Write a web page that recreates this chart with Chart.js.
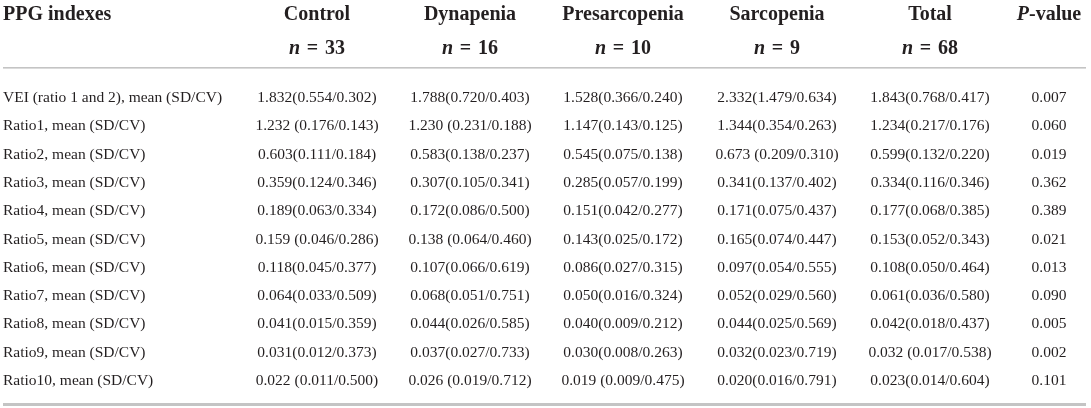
<!DOCTYPE html>
<html>
<head>
<meta charset="utf-8">
<script src="https://cdn.jsdelivr.net/npm/chart.js@4/dist/chart.umd.min.js"></script>
<style>
  html, body { margin: 0; padding: 0; background: #fff; }
  #wrap { width: 1091px; height: 408px; position: relative; }
</style>
</head>
<body>
<div id="wrap"><canvas id="table"></canvas></div>
<script>
// Table content
const rowLabels = [
  "VEI (ratio 1 and 2), mean (SD/CV)",
  "Ratio1, mean (SD/CV)",
  "Ratio2, mean (SD/CV)",
  "Ratio3, mean (SD/CV)",
  "Ratio4, mean (SD/CV)",
  "Ratio5, mean (SD/CV)",
  "Ratio6, mean (SD/CV)",
  "Ratio7, mean (SD/CV)",
  "Ratio8, mean (SD/CV)",
  "Ratio9, mean (SD/CV)",
  "Ratio10, mean (SD/CV)",
];
const groups = ["Control", "Dynapenia", "Presarcopenia", "Sarcopenia", "Total"];
const groupN = [33, 16, 10, 9, 68];

const control = [
  "1.832(0.554/0.302)", "1.232 (0.176/0.143)", "0.603(0.111/0.184)", "0.359(0.124/0.346)",
  "0.189(0.063/0.334)", "0.159 (0.046/0.286)", "0.118(0.045/0.377)", "0.064(0.033/0.509)",
  "0.041(0.015/0.359)", "0.031(0.012/0.373)", "0.022 (0.011/0.500)",
];
const dynapenia = [
  "1.788(0.720/0.403)", "1.230 (0.231/0.188)", "0.583(0.138/0.237)", "0.307(0.105/0.341)",
  "0.172(0.086/0.500)", "0.138 (0.064/0.460)", "0.107(0.066/0.619)", "0.068(0.051/0.751)",
  "0.044(0.026/0.585)", "0.037(0.027/0.733)", "0.026 (0.019/0.712)",
];
const presarcopenia = [
  "1.528(0.366/0.240)", "1.147(0.143/0.125)", "0.545(0.075/0.138)", "0.285(0.057/0.199)",
  "0.151(0.042/0.277)", "0.143(0.025/0.172)", "0.086(0.027/0.315)", "0.050(0.016/0.324)",
  "0.040(0.009/0.212)", "0.030(0.008/0.263)", "0.019 (0.009/0.475)",
];
const sarcopenia = [
  "2.332(1.479/0.634)", "1.344(0.354/0.263)", "0.673 (0.209/0.310)", "0.341(0.137/0.402)",
  "0.171(0.075/0.437)", "0.165(0.074/0.447)", "0.097(0.054/0.555)", "0.052(0.029/0.560)",
  "0.044(0.025/0.569)", "0.032(0.023/0.719)", "0.020(0.016/0.791)",
];
const total = [
  "1.843(0.768/0.417)", "1.234(0.217/0.176)", "0.599(0.132/0.220)", "0.334(0.116/0.346)",
  "0.177(0.068/0.385)", "0.153(0.052/0.343)", "0.108(0.050/0.464)", "0.061(0.036/0.580)",
  "0.042(0.018/0.437)", "0.032 (0.017/0.538)", "0.023(0.014/0.604)",
];
const pValues = [
  "0.007", "0.060", "0.019", "0.362", "0.389", "0.021",
  "0.013", "0.090", "0.005", "0.002", "0.101",
];

const groupCells = [control, dynapenia, presarcopenia, sarcopenia, total];

// layout: column centres on the x scale (which runs 0..width in px units)
const W = 1091;
const labelX = 3;
const groupX = [317, 470, 623, 777, 930];
const pX = 1049;
const serif = "'Liberation Serif', 'DejaVu Serif', serif";
const ink = "#231f20";

const tablePlugin = {
  id: "tableCells",
  afterDraw(chart) {
    const ctx = chart.ctx;
    const xs = chart.scales.x;
    const ys = chart.scales.y;
    ctx.save();
    ctx.fillStyle = ink;

    // header, line 1
    ctx.font = "bold 20px " + serif;
    ctx.textBaseline = "alphabetic";
    ctx.textAlign = "left";
    ctx.fillText("PPG indexes", xs.getPixelForValue(labelX), 20);
    ctx.textAlign = "center";
    groups.forEach((g, i) => ctx.fillText(g, xs.getPixelForValue(groupX[i]), 20));

    // P-value header: italic P + bold "-value"
    const italic = "italic bold 20px " + serif;
    const bold = "bold 20px " + serif;
    ctx.font = italic; const wp = ctx.measureText("P").width;
    ctx.font = bold; const wv = ctx.measureText("-value").width;
    let px = xs.getPixelForValue(pX) - (wp + wv) / 2;
    ctx.textAlign = "left";
    ctx.font = italic; ctx.fillText("P", px, 20);
    ctx.font = bold; ctx.fillText("-value", px + wp, 20);

    // header, line 2: n = ... (a bit of math spacing round the equals sign)
    groupN.forEach((n, i) => {
      ctx.font = italic; const wn = ctx.measureText("n").width;
      ctx.font = bold; const rest = "\u2004=\u2004" + n; const wr = ctx.measureText(rest).width;
      const x0 = xs.getPixelForValue(groupX[i]) - (wn + wr) / 2;
      ctx.font = italic; ctx.fillText("n", x0, 54);
      ctx.font = bold; ctx.fillText(rest, x0 + wn, 54);
    });

    // rules
    ctx.fillStyle = "#c4c4c4";
    ctx.fillRect(3, 67, 1083, 1.6);
    ctx.fillRect(3, 403, 1083, 3);

    // body cells
    ctx.fillStyle = ink;
    ctx.font = "15.5px " + serif;
    ctx.textBaseline = "middle";
    rowLabels.forEach((lab, r) => {
      const y = ys.getPixelForValue(r);
      ctx.textAlign = "left";
      ctx.fillText(lab, xs.getPixelForValue(labelX), y);
      ctx.textAlign = "center";
      groupCells.forEach((col, c) => ctx.fillText(col[r], xs.getPixelForValue(groupX[c]), y));
      ctx.fillText(pValues[r], xs.getPixelForValue(pX), y);
    });
    ctx.restore();
  },
};

new Chart(document.getElementById("table"), {
  type: "scatter",
  data: { labels: rowLabels, datasets: [] },
  options: {
    responsive: true,
    maintainAspectRatio: false,
    animation: false,
    events: [],
    layout: { padding: { top: 84, bottom: 13, left: 0, right: 0 } },
    plugins: { legend: { display: false }, tooltip: { enabled: false } },
    scales: {
      x: { type: "linear", min: 0, max: W, display: false },
      y: { type: "category", labels: rowLabels, offset: true, display: false },
    },
  },
  plugins: [tablePlugin],
});
</script>
</body>
</html>
